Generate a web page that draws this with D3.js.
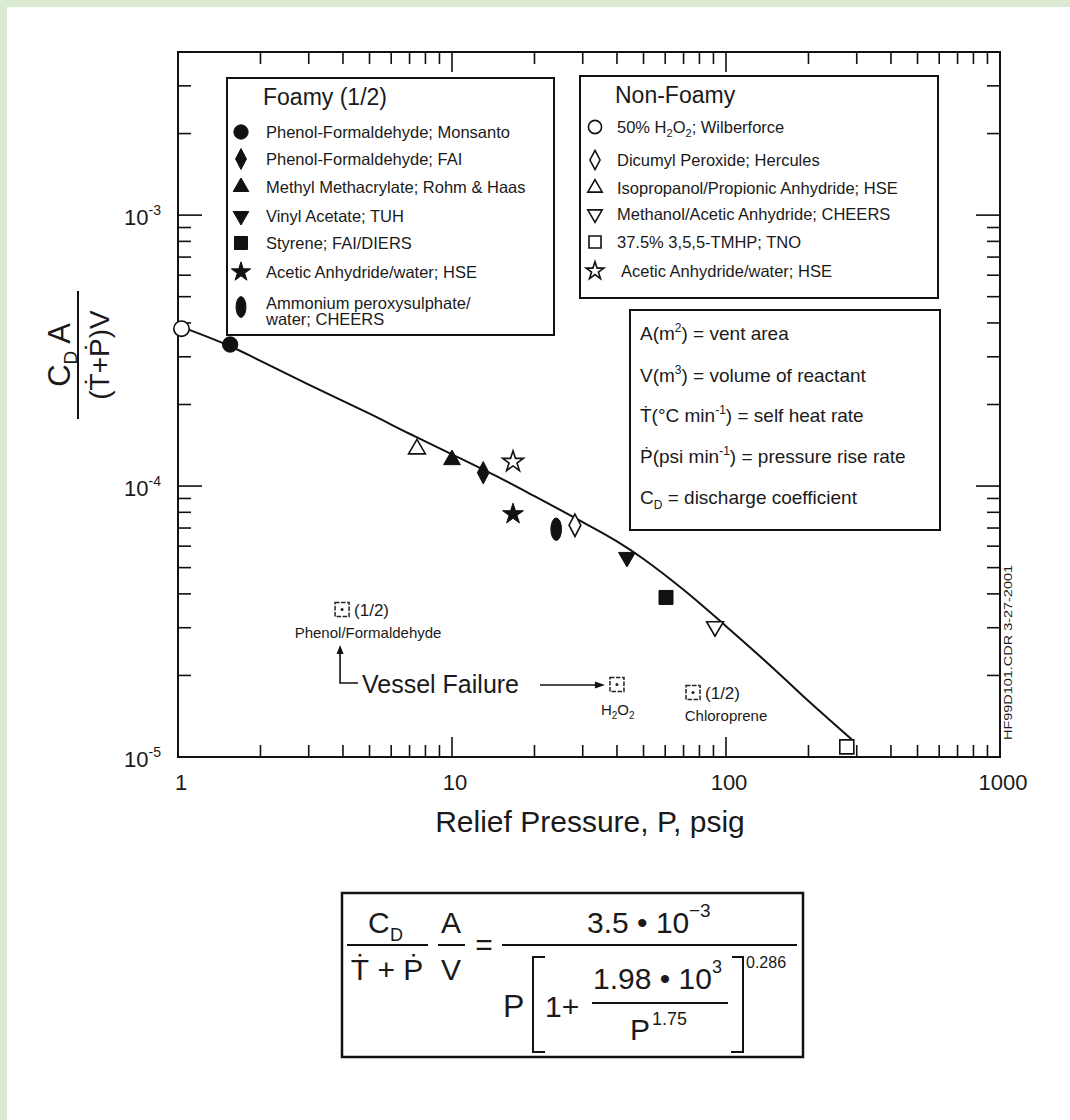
<!DOCTYPE html>
<html>
<head>
<meta charset="utf-8">
<script src="https://cdn.jsdelivr.net/npm/d3@7"></script>
<style>
    body { margin: 0; background: #ffffff; }
    text { font-family: "Liberation Sans", Arial, Helvetica, sans-serif; fill: #1a1a1a; }
</style>
</head>
<body>
<div id="chart"></div>
<script>
// curve
const curveP = [1, 1.5, 2, 3, 5, 7, 10, 15, 20, 30, 40, 50, 70, 100, 150, 200, 288];
const curveV = [3.91e-4, 3.33e-4, 2.90e-4, 2.37e-4, 1.85e-4, 1.56e-4, 1.31e-4, 1.07e-4, 9.18e-5,
    7.36e-5, 6.25e-5, 5.38e-5, 4.14e-5, 3.04e-5, 2.11e-5, 1.61e-5, 1.16e-5];

// foamy (filled) points
const foamyNames = ["Phenol-Formaldehyde; Monsanto", "Phenol-Formaldehyde; FAI", "Methyl Methacrylate; Rohm & Haas",
    "Vinyl Acetate; TUH", "Styrene; FAI/DIERS", "Acetic Anhydride/water; HSE", "Ammonium peroxysulphate/|water; CHEERS"];
const foamySymbols = ["circle", "diamond", "triangle", "triangleDown", "square", "star", "ellipse"];
const foamyP = [1.55, 13.0, 10.0, 43.5, 60.4, 16.7, 24.0];
const foamyV = [3.33e-4, 1.12e-4, 1.25e-4, 5.46e-5, 3.88e-5, 7.88e-5, 6.93e-5];

// non-foamy (open) points
const nonFoamyNames = ["50% H|2|O|2|; Wilberforce", "Dicumyl Peroxide; Hercules", "Isopropanol/Propionic Anhydride; HSE",
    "Methanol/Acetic Anhydride; CHEERS", "37.5% 3,5,5-TMHP; TNO", "Acetic Anhydride/water; HSE"];
const nonFoamySymbols = ["circle", "diamond", "triangle", "triangleDown", "square", "star"];
const nonFoamyP = [1.03, 28.1, 7.45, 91.2, 276, 16.7];
const nonFoamyV = [3.81e-4, 7.17e-5, 1.37e-4, 3.03e-5, 1.09e-5, 1.23e-4];

// vessel failure points
const failureLabels = ["Phenol/Formaldehyde", "H2O2", "Chloroprene"];
const failureP = [3.97, 40.0, 75.8];
const failureV = [3.50e-5, 1.85e-5, 1.73e-5];
const failureHalf = [true, false, true];

// axes
const xTicks = [1, 10, 100, 1000];
const xTickLabels = ["1", "10", "100", "1000"];
const yTicks = [1e-3, 1e-4, 1e-5];
const yTickExp = ["-3", "-4", "-5"];

// definitions box
const definitions = [
    ["A(m", "2", ") = vent area"],
    ["V(m", "3", ") = volume of reactant"],
    ["\u1E6A(\u00B0C min", "-1", ") = self heat rate"],
    ["\u1E56(psi min", "-1", ") = pressure rise rate"],
    ["C", "D", " = discharge coefficient"]
];

const width = 1070;
const height = 1120;

const svg = d3.select("#chart")
    .append("svg")
    .attr("width", width)
    .attr("height", height);

svg.append("rect").attr("width", width).attr("height", height).attr("fill", "#ffffff");
svg.append("rect").attr("width", width).attr("height", 7).attr("fill", "#dbead3");
svg.append("rect").attr("width", 7).attr("height", height).attr("fill", "#dbead3");

const x = d3.scaleLog().domain([1, 1000]).range([178, 1000]);
const y = d3.scaleLog().domain([1e-5, 4e-3]).range([757, 52]);

// Title Draws one marker
function marker(g, type, cx, cy, s, filled) {
    const fill = filled ? "#111" : "#fff";
    const sw = filled ? 1 : 1.6;
    if (type === "ellipse") {
        g.append("ellipse")
            .attr("cx", cx).attr("cy", cy)
            .attr("rx", s * 0.38).attr("ry", s * 0.8)
            .attr("fill", fill).attr("stroke", "#111").attr("stroke-width", sw);
        return;
    }
    let path;
    let rot = 0;
    if (type === "diamond") {
        const w = s * 0.42, h = s * 0.8;
        path = `M0,${-h}L${w},0L0,${h}L${-w},0Z`;
    } else if (type === "circle") {
        path = d3.symbol().type(d3.symbolCircle).size(Math.PI * (s * 0.55) ** 2)();
    } else if (type === "square") {
        path = d3.symbol().type(d3.symbolSquare).size((s * 1.0) ** 2)();
    } else if (type === "star") {
        path = d3.symbol().type(d3.symbolStar).size((s * 0.78) ** 2 / 0.8908)();
    } else {
        path = d3.symbol().type(d3.symbolTriangle).size(Math.sqrt(3) / 4 * (s * 1.2) ** 2)();
        if (type === "triangleDown") rot = 180;
    }
    g.append("path")
        .attr("d", path)
        .attr("transform", `translate(${cx},${cy}) rotate(${rot})`)
        .attr("fill", fill)
        .attr("stroke", "#111")
        .attr("stroke-width", sw)
        .attr("stroke-linejoin", "miter");
}

// Title Vessel failure marker
function failureMarker(g, cx, cy) {
    g.append("rect")
        .attr("x", cx - 7).attr("y", cy - 7)
        .attr("width", 14).attr("height", 14)
        .attr("fill", "#fff")
        .attr("stroke", "#222")
        .attr("stroke-width", 1.5)
        .attr("stroke-dasharray", "4.5,1.5");
    g.append("circle").attr("cx", cx).attr("cy", cy).attr("r", 1.5).attr("fill", "#222");
}

// Title Axes frame and ticks
function drawAxes() {
    const g = svg.append("g");
    g.append("rect")
        .attr("x", x(1)).attr("y", y(4e-3))
        .attr("width", x(1000) - x(1)).attr("height", y(1e-5) - y(4e-3))
        .attr("fill", "none").attr("stroke", "#111").attr("stroke-width", 2);

    const xMinor = [];
    [1, 10, 100].forEach(d => { for (let k = 2; k <= 9; k++) xMinor.push(d * k); });
    const yMinor = [];
    [1e-5, 1e-4, 1e-3].forEach(d => { for (let k = 2; k <= 9; k++) if (d * k <= 4e-3) yMinor.push(d * k); });

    const xt = xMinor.map(v => [v, 12]).concat([[10, 20], [100, 20]]);
    xt.forEach(function(d) {
        g.append("line").attr("x1", x(d[0])).attr("x2", x(d[0]))
            .attr("y1", y(1e-5)).attr("y2", y(1e-5) - d[1])
            .attr("stroke", "#111").attr("stroke-width", 1.6);
        g.append("line").attr("x1", x(d[0])).attr("x2", x(d[0]))
            .attr("y1", y(4e-3)).attr("y2", y(4e-3) + d[1])
            .attr("stroke", "#111").attr("stroke-width", 1.6);
    });
    const yt = yMinor.map(v => [v, 13]).concat([[1e-4, 24], [1e-3, 24]]);
    yt.forEach(function(d) {
        g.append("line").attr("x1", x(1)).attr("x2", x(1) + d[1])
            .attr("y1", y(d[0])).attr("y2", y(d[0]))
            .attr("stroke", "#111").attr("stroke-width", 1.6);
        g.append("line").attr("x1", x(1000)).attr("x2", x(1000) - d[1])
            .attr("y1", y(d[0])).attr("y2", y(d[0]))
            .attr("stroke", "#111").attr("stroke-width", 1.6);
    });

    xTicks.forEach(function(d, i) {
        g.append("text")
            .attr("x", x(d) + 3).attr("y", 790)
            .attr("text-anchor", "middle")
            .attr("font-size", 22)
            .text(xTickLabels[i]);
    });
    yTicks.forEach(function(d, i) {
        const t = g.append("text")
            .attr("x", 124).attr("y", y(d) + 10)
            .attr("font-size", 22);
        t.append("tspan").text("10");
        t.append("tspan").attr("dy", -10).attr("font-size", 14).text(yTickExp[i]);
    });

    g.append("text")
        .attr("x", 590).attr("y", 832)
        .attr("text-anchor", "middle")
        .attr("font-size", 30)
        .text("Relief Pressure, P, psig");

    // y label as a rotated fraction
    const yl = g.append("g").attr("transform", "translate(78,355) rotate(-90)");
    yl.append("line").attr("x1", -64).attr("x2", 64).attr("y1", 0).attr("y2", 0)
        .attr("stroke", "#111").attr("stroke-width", 2);
    const num = yl.append("text").attr("x", 0).attr("y", -8).attr("text-anchor", "middle").attr("font-size", 31);
    num.append("tspan").text("C");
    num.append("tspan").attr("dy", 7).attr("font-size", 19).text("D");
    num.append("tspan").attr("dy", -7).text(" A");
    yl.append("text").attr("x", 0).attr("y", 31).attr("text-anchor", "middle").attr("font-size", 28)
        .text("(\u1E6A+\u1E56)V");

    g.append("text")
        .attr("transform", "translate(1012,740) rotate(-90)")
        .attr("font-size", 10)
        .attr("textLength", 175)
        .attr("lengthAdjust", "spacingAndGlyphs")
        .text("HF99D101.CDR 3-27-2001");
}

// Title Legend boxes
function drawLegends() {
    const g = svg.append("g");
    g.append("rect").attr("x", 227).attr("y", 78).attr("width", 327).attr("height", 257)
        .attr("fill", "#fff").attr("stroke", "#111").attr("stroke-width", 2);
    g.append("text").attr("x", 263).attr("y", 105).attr("font-size", 23).text("Foamy (1/2)");
    const foamyRows = [132, 159, 187, 216, 243, 272, 303];
    foamyNames.forEach(function(d, i) {
        marker(g, foamySymbols[i], 241, foamyRows[i] + (i === 6 ? 4 : 0), 13, true);
        const parts = d.split("|");
        parts.forEach(function(p, j) {
            g.append("text").attr("x", 266).attr("y", foamyRows[i] + 6 + j * 16)
                .attr("font-size", 16.5).text(p);
        });
    });

    g.append("rect").attr("x", 580).attr("y", 76).attr("width", 358).attr("height", 222)
        .attr("fill", "#fff").attr("stroke", "#111").attr("stroke-width", 2);
    g.append("text").attr("x", 615).attr("y", 103).attr("font-size", 23).text("Non-Foamy");
    const nfRows = [127, 160, 188, 214, 242, 271];
    nonFoamyNames.forEach(function(d, i) {
        marker(g, nonFoamySymbols[i], 595, nfRows[i], 12, false);
        const t = g.append("text").attr("x", i === 5 ? 621 : 617).attr("y", nfRows[i] + 6).attr("font-size", 16.5);
        d.split("|").forEach(function(p, j) {
            t.append("tspan")
                .attr("dy", j === 0 ? 0 : (j % 2 === 1 ? 4 : -4))
                .attr("font-size", j % 2 === 1 ? 11 : 16.5)
                .text(p);
        });
    });

    g.append("rect").attr("x", 630).attr("y", 310).attr("width", 310).attr("height", 220)
        .attr("fill", "#fff").attr("stroke", "#111").attr("stroke-width", 2);
    const defRows = [333, 375, 415, 456, 497];
    definitions.forEach(function(d, i) {
        const t = g.append("text").attr("x", 640).attr("y", defRows[i] + 7).attr("font-size", 19);
        t.append("tspan").text(d[0]);
        const sub = d[1] === "D";
        t.append("tspan").attr("dy", sub ? 5 : -8).attr("font-size", 12).text(d[1]);
        t.append("tspan").attr("dy", sub ? -5 : 8).text(d[2]);
    });
}

// Title Data curve and points
function drawData() {
    const g = svg.append("g");
    const pts = curveP.map((p, i) => [p, curveV[i]]);
    g.append("path")
        .datum(pts)
        .attr("d", d3.line().x(d => x(d[0])).y(d => y(d[1])).curve(d3.curveCatmullRom))
        .attr("fill", "none")
        .attr("stroke", "#111")
        .attr("stroke-width", 2);

    nonFoamyP.forEach(function(p, i) {
        marker(g, nonFoamySymbols[i], x(p), y(nonFoamyV[i]), 14, false);
    });
    foamyP.forEach(function(p, i) {
        marker(g, foamySymbols[i], x(p), y(foamyV[i]), 14, true);
    });

    failureP.forEach(function(p, i) {
        const cx = x(p), cy = y(failureV[i]);
        failureMarker(g, cx, cy);
        if (failureHalf[i]) {
            g.append("text").attr("x", cx + 12).attr("y", cy + 6).attr("font-size", 17).text("(1/2)");
        }
        if (failureLabels[i] === "H2O2") {
            const t = g.append("text").attr("x", cx - 16).attr("y", cy + 30).attr("font-size", 15);
            t.append("tspan").text("H");
            t.append("tspan").attr("dy", 4).attr("font-size", 10).text("2");
            t.append("tspan").attr("dy", -4).text("O");
            t.append("tspan").attr("dy", 4).attr("font-size", 10).text("2");
        } else {
            g.append("text")
                .attr("x", failureLabels[i] === "Chloroprene" ? cx + 33 : cx + 26)
                .attr("y", cy + 28)
                .attr("text-anchor", "middle")
                .attr("font-size", 15)
                .text(failureLabels[i]);
        }
    });

    // vessel failure annotation
    const fx = x(failureP[0]), hx = x(failureP[1]);
    g.append("text").attr("x", 362).attr("y", 693).attr("font-size", 25).text("Vessel Failure");
    g.append("path")
        .attr("d", `M${fx - 2},652 V683 H358`)
        .attr("fill", "none").attr("stroke", "#111").attr("stroke-width", 1.6);
    g.append("path")
        .attr("d", `M${fx - 2},645 l-3.5,9 h7 Z`)
        .attr("fill", "#111");
    g.append("line").attr("x1", 540).attr("x2", hx - 20).attr("y1", 685).attr("y2", 685)
        .attr("stroke", "#111").attr("stroke-width", 1.6);
    g.append("path")
        .attr("d", `M${hx - 12},685 l-10,-3.5 v7 Z`)
        .attr("fill", "#111");
}

// Title Formula box
function drawFormula() {
    const g = svg.append("g");
    g.append("rect").attr("x", 342).attr("y", 893).attr("width", 461).attr("height", 164)
        .attr("fill", "#fff").attr("stroke", "#111").attr("stroke-width", 2.5);

    const line = (x1, x2, yy) => g.append("line").attr("x1", x1).attr("x2", x2).attr("y1", yy).attr("y2", yy)
        .attr("stroke", "#111").attr("stroke-width", 2);
    const txt = (tx, ty, s, str, anchor) => g.append("text").attr("x", tx).attr("y", ty)
        .attr("font-size", s).attr("text-anchor", anchor || "start").text(str);

    txt(368, 933, 30, "C");
    txt(390, 941, 18, "D");
    line(347, 428, 945);
    txt(387, 980, 30, "\u1E6A + \u1E56", "middle");
    txt(451, 933, 30, "A", "middle");
    line(438, 465, 945);
    txt(451, 980, 30, "V", "middle");
    txt(484, 955, 30, "=", "middle");

    txt(587, 933, 30, "3.5 \u2022 10");
    txt(689, 917, 19, "\u22123");
    line(502, 797, 945);

    txt(503, 1017, 32, "P");
    g.append("path").attr("d", "M545,957 H533 V1052 H545")
        .attr("fill", "none").attr("stroke", "#111").attr("stroke-width", 2);
    txt(545, 1017, 30, "1+");
    txt(593, 989, 30, "1.98 \u2022 10");
    txt(712, 973, 18, "3");
    line(592, 728, 1003);
    txt(630, 1040, 30, "P");
    txt(652, 1025, 18, "1.75");
    g.append("path").attr("d", "M732,957 H743 V1052 H731")
        .attr("fill", "none").attr("stroke", "#111").attr("stroke-width", 2);
    txt(746, 968, 16, "0.286");
}

drawAxes();
drawData();
drawLegends();
drawFormula();
</script>
</body>
</html>
